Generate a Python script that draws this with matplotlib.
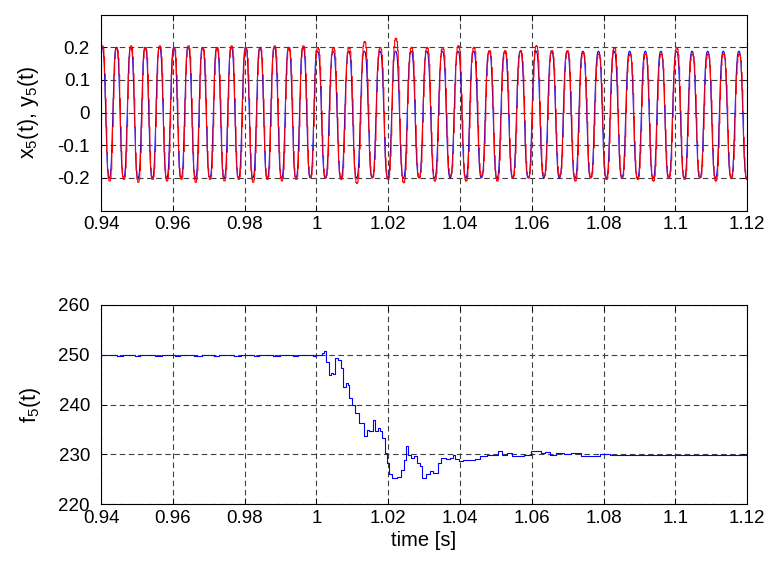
import numpy as np
import matplotlib
matplotlib.use('Agg')
import matplotlib.pyplot as plt

plt.rcParams['font.family'] = ['Liberation Sans', 'DejaVu Sans']
plt.rcParams['mathtext.fontset'] = 'custom'
plt.rcParams['mathtext.rm'] = 'Liberation Sans'
plt.rcParams['mathtext.it'] = 'Liberation Sans:italic'
plt.rcParams['axes.unicode_minus'] = False

# ---------------- data ----------------
# estimated frequency f5(t) [Hz]
t_est = [0.94, 0.9445, 0.946, 0.9495, 0.951, 0.955, 0.957, 0.9605, 0.962, 0.966,
         0.968, 0.9715, 0.973, 0.977, 0.979, 0.9825, 0.984, 0.988, 0.99, 0.9935,
         0.995, 0.999, 1.0, 1.0015, 1.002, 1.0028, 1.0035, 1.004, 1.0046, 1.0051,
         1.0059, 1.0068, 1.0074, 1.0083, 1.0087, 1.0092, 1.0099, 1.0109, 1.012,
         1.0133, 1.014, 1.0148, 1.0157, 1.0164, 1.0172, 1.0177, 1.0183, 1.0191,
         1.0198, 1.0202, 1.0212, 1.0224, 1.0236, 1.0243, 1.025, 1.0255, 1.0264,
         1.0273, 1.0281, 1.0288, 1.0295, 1.0306, 1.0316, 1.0325, 1.0333, 1.0339,
         1.0346, 1.036, 1.0373, 1.038, 1.0387, 1.0397, 1.0408, 1.0428, 1.0442,
         1.0456, 1.0476, 1.049, 1.0506, 1.0517, 1.0531, 1.0545, 1.0565, 1.0579,
         1.0597, 1.0613, 1.0627, 1.0638, 1.0651, 1.0668, 1.0689, 1.071, 1.0737,
         1.079, 1.0818, 1.12]
f_est = [250.0, 249.7, 250.0, 249.8, 250.0, 249.7, 250.0, 249.8, 250.0, 249.7,
         250.0, 249.8, 250.0, 249.7, 250.0, 249.8, 250.0, 249.7, 250.0, 249.8,
         250.0, 249.8, 250.0, 250.3, 250.7, 248.6, 245.9, 246.3, 246.1, 249.3,
         248.9, 247.4, 243.6, 244.3, 243.9, 241.3, 239.9, 238.3, 236.3,
         233.6, 234.9, 234.6, 237.0, 234.6, 235.3, 234.6, 233.3, 230.3,
         228.3, 226.0, 225.3, 225.5, 226.9, 228.9, 231.7, 229.8, 229.3,
         229.7, 228.3, 227.6, 225.3, 226.1, 226.6, 226.3, 226.3, 228.3,
         229.3, 229.0, 229.3, 229.9, 229.0, 228.6, 228.9, 228.8, 229.0,
         229.6, 229.9, 229.9, 230.6, 229.9, 230.3, 229.6, 229.6, 229.9,
         230.6, 230.6, 230.3, 230.5, 229.8, 230.3, 230.1, 230.2, 229.7,
         230.1, 229.9, 230.0]

# true harmonic frequency of x5 (Hz) before / after the step at t_step
f_true = [250.0, 230.0]
t_step = 1.0
t_first_peak = 0.9403

# amplitudes of x5 (blue) before / after the step
blue_peak = [0.200, 0.188]
blue_trough = [-0.200, -0.200]

# per-cycle peaks and troughs of y5 (red), cycle k = 0 .. 42
red_peaks = [0.205, 0.200, 0.205, 0.200, 0.205, 0.200, 0.205, 0.200, 0.200, 0.205,
             0.200, 0.200, 0.205, 0.200, 0.205, 0.200, 0.200, 0.200, 0.218, 0.200,
             0.228, 0.200, 0.200, 0.200, 0.205, 0.200, 0.190, 0.190, 0.190, 0.205,
             0.190, 0.190, 0.185, 0.180, 0.200, 0.180, 0.180, 0.180, 0.200, 0.180,
             0.180, 0.180, 0.180]
red_troughs = [-0.210, -0.205, -0.214, -0.205, -0.210, -0.205, -0.214, -0.205, -0.210, -0.205,
               -0.214, -0.205, -0.210, -0.205, -0.200, -0.200, -0.205, -0.217, -0.200, -0.205,
               -0.215, -0.200, -0.210, -0.195, -0.210, -0.195, -0.210, -0.200, -0.200, -0.195,
               -0.195, -0.210, -0.200, -0.205, -0.200, -0.205, -0.210, -0.200, -0.205, -0.200,
               -0.210, -0.200, -0.205]

# relative 3rd-harmonic content giving the slightly pointed wave shape
harm3 = 0.08

xticks = [0.94, 0.96, 0.98, 1.0, 1.02, 1.04, 1.06, 1.08, 1.1, 1.12]
xticklabels = ['0.94', '0.96', '0.98', '1', '1.02', '1.04', '1.06', '1.08', '1.1', '1.12']
yticks_top = [-0.2, -0.1, 0.0, 0.1, 0.2]
yticklabels_top = ['-0.2', '-0.1', '0', '0.1', '0.2']
yticks_bot = [220, 230, 240, 250, 260]

# ---------------- signals ----------------
def phase_cycles(t):
    t = np.asarray(t)
    ph_step = (t_step - t_first_peak) * f_true[0]
    return np.where(t < t_step, (t - t_first_peak) * f_true[0],
                    ph_step + (t - t_step) * f_true[1])

def shape(ph):
    th = 2 * np.pi * ph
    return (np.cos(th) - harm3 * np.cos(3 * th)) / (1 - harm3)

t_blue = np.arange(0.94, 1.12 + 1e-9, 0.0001)
ph_b = phase_cycles(t_blue)
c_b = shape(ph_b)
after = t_blue >= t_step
pk = np.where(after, blue_peak[1], blue_peak[0])
tr = np.where(after, blue_trough[1], blue_trough[0])
x5 = np.where(c_b >= 0, c_b * pk, -c_b * tr)

t_red = np.arange(0.94, 1.12 + 1e-9, 0.0002)
ph_r = phase_cycles(t_red)
c_r = shape(ph_r)
kp = np.clip(np.round(ph_r).astype(int), 0, len(red_peaks) - 1)
kt = np.clip(np.floor(ph_r).astype(int), 0, len(red_troughs) - 1)
rp = np.array(red_peaks)[kp]
rt = np.array(red_troughs)[kt]
y5 = np.where(c_r >= 0, c_r * rp, -c_r * rt)

# ---------------- figure ----------------
fig = plt.figure(figsize=(7.71, 5.63), dpi=100)
ax1 = fig.add_axes([0.131, 0.626, 0.838, 0.348])
ax2 = fig.add_axes([0.131, 0.104, 0.838, 0.355])

ax1.plot(t_blue, x5, color='#0000ff', lw=0.8)
ax1.plot(t_red, y5, color='#ff0000', lw=0.8, drawstyle='steps-post')
ax2.plot(t_est, f_est, color='#0000ff', lw=0.8, drawstyle='steps-post')

grid_kw = dict(color='#404040', linestyle=(0, (5, 3.2)), linewidth=0.8)
for ax in (ax1, ax2):
    ax.set_xlim(0.94, 1.12)
    ax.set_xticks(xticks)
    ax.set_xticklabels(xticklabels)
    ax.grid(True, **grid_kw)
    ax.tick_params(direction='in', length=4, width=0.6, top=True, right=True,
                   labelsize=13.5, colors='black')
    ax.tick_params(axis='x', pad=4)
    ax.tick_params(axis='y', pad=8)
    for s in ax.spines.values():
        s.set_linewidth(0.8)
        s.set_color('black')

ax1.set_ylim(-0.3, 0.3)
ax1.set_yticks(yticks_top)
ax1.set_yticklabels(yticklabels_top)
ax1.set_ylabel('x$_5$(t), y$_5$(t)', fontsize=15.5, labelpad=12)

ax2.set_ylim(220, 260)
ax2.set_yticks(yticks_bot)
ax2.set_ylabel('f$_5$(t)', fontsize=15.5, labelpad=11)
ax2.set_xlabel('time [s]', fontsize=14.5, labelpad=3)

fig.savefig('out.png', dpi=100)
